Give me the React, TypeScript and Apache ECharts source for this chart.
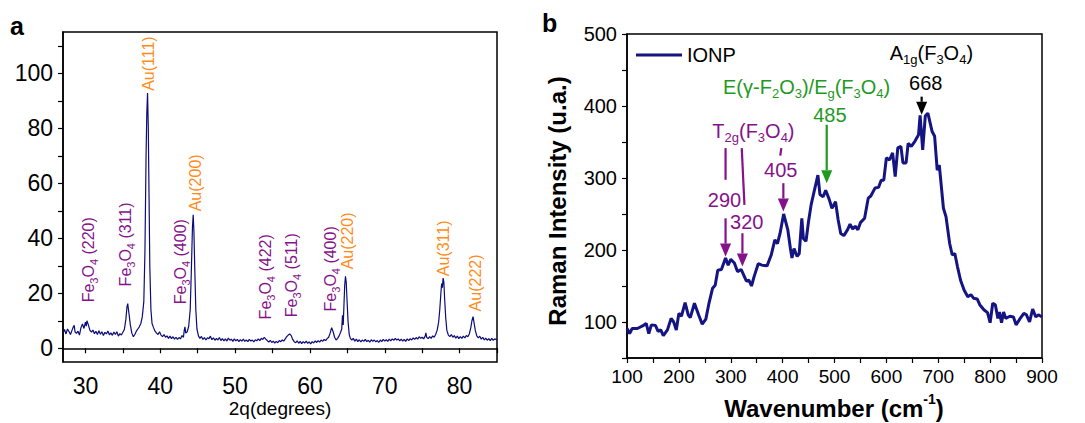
import React, { useEffect, useRef } from "react";
import * as echarts from "echarts";

const FONT = "Liberation Sans, Arial, sans-serif";
const PURPLE = "#85128a";
const ORANGE = "#ff8c1a";
const GREEN = "#1f9a1f";

// ---------- Panel a: XRD (2θ, intensity) ----------
const xrdPoints: [number, number][] = [
  [27.0, 5.5], [27.2, 6.8], [27.4, 5.2], [27.6, 7.0], [27.8, 6.1], [28.0, 5.0], [28.2, 6.5], [28.4, 7.9], [28.5, 8.3], [28.6, 6.0],
  [28.8, 5.4], [29.0, 6.2], [29.2, 4.8], [29.4, 7.5], [29.6, 8.8], [29.8, 7.2], [30.0, 9.5], [30.1, 8.0], [30.2, 10.0], [30.4, 8.4],
  [30.6, 6.5], [30.8, 5.9], [31.0, 6.6], [31.2, 5.3], [31.4, 6.2], [31.6, 5.0], [31.8, 6.4], [32.0, 5.1], [32.2, 6.0], [32.4, 4.6],
  [32.6, 5.8], [32.8, 5.2], [33.0, 6.3], [33.2, 4.9], [33.4, 5.6], [33.6, 4.7], [33.8, 5.9], [34.0, 5.0], [34.2, 6.0], [34.4, 4.4],
  [34.6, 5.3], [34.8, 4.8], [35.0, 5.8], [35.2, 6.8], [35.4, 10.5], [35.55, 15.0], [35.65, 16.2], [35.8, 13.0], [36.0, 8.5], [36.2, 5.5],
  [36.4, 4.2], [36.6, 5.0], [36.8, 6.2], [37.0, 7.0], [37.2, 7.8], [37.4, 9.0], [37.6, 11.5], [37.8, 17.0], [37.95, 35.0], [38.1, 70.0],
  [38.2, 85.5], [38.3, 92.8], [38.4, 80.0], [38.5, 55.0], [38.6, 30.0], [38.75, 14.0], [38.9, 9.0], [39.1, 7.5], [39.3, 6.2], [39.5, 5.5],
  [39.7, 5.0], [39.9, 6.0], [40.1, 4.8], [40.3, 4.2], [40.5, 5.0], [40.7, 4.0], [40.9, 4.5], [41.1, 3.6], [41.3, 4.4], [41.5, 3.5],
  [41.7, 4.2], [41.9, 3.3], [42.1, 4.0], [42.3, 3.2], [42.5, 3.9], [42.7, 3.4], [42.9, 4.6], [43.1, 4.0], [43.2, 6.5], [43.3, 7.8],
  [43.4, 5.5], [43.6, 6.0], [43.8, 8.0], [44.0, 14.0], [44.15, 28.0], [44.3, 44.0], [44.4, 48.5], [44.5, 42.0], [44.6, 30.0], [44.75, 14.0],
  [44.9, 7.0], [45.1, 4.5], [45.3, 3.6], [45.5, 4.3], [45.7, 3.2], [45.9, 3.9], [46.1, 3.0], [46.3, 3.8], [46.5, 3.5], [46.7, 4.4],
  [46.9, 3.1], [47.1, 3.8], [47.3, 2.9], [47.5, 3.6], [47.7, 3.0], [47.9, 3.9], [48.1, 2.8], [48.3, 3.5], [48.5, 2.7], [48.7, 3.4],
  [48.9, 2.6], [49.1, 3.7], [49.3, 2.9], [49.5, 3.3], [49.7, 2.5], [49.9, 3.4], [50.1, 2.7], [50.3, 3.2], [50.5, 2.4], [50.7, 3.1],
  [50.9, 2.6], [51.1, 3.3], [51.3, 2.5], [51.5, 3.0], [51.7, 2.4], [51.9, 3.2], [52.1, 2.6], [52.3, 3.0], [52.5, 2.3], [52.7, 3.1],
  [52.9, 2.7], [53.1, 3.4], [53.3, 2.8], [53.5, 3.6], [53.7, 3.2], [53.9, 4.0], [54.1, 3.3], [54.3, 2.8], [54.5, 2.2], [54.7, 2.9],
  [54.9, 2.1], [55.1, 2.6], [55.3, 1.9], [55.5, 2.5], [55.7, 2.0], [55.9, 2.8], [56.1, 2.4], [56.3, 3.0], [56.5, 2.6], [56.7, 3.4],
  [56.9, 4.2], [57.1, 4.8], [57.3, 5.2], [57.5, 4.6], [57.7, 3.2], [57.9, 2.4], [58.1, 2.0], [58.3, 2.7], [58.5, 1.8], [58.7, 2.5],
  [58.9, 1.7], [59.1, 2.4], [59.3, 1.9], [59.5, 2.6], [59.7, 1.8], [59.9, 2.3], [60.1, 1.6], [60.3, 2.4], [60.5, 1.9], [60.7, 2.7],
  [60.9, 2.1], [61.1, 2.8], [61.3, 2.2], [61.5, 3.0], [61.7, 2.5], [61.9, 3.2], [62.1, 2.8], [62.3, 3.5], [62.5, 4.0], [62.7, 5.5],
  [62.9, 7.5], [63.1, 6.0], [63.3, 4.0], [63.5, 3.0], [63.7, 3.6], [63.9, 4.5], [64.1, 5.8], [64.25, 7.0], [64.35, 12.0], [64.45, 8.5],
  [64.55, 16.0], [64.65, 23.0], [64.75, 26.2], [64.85, 24.0], [64.95, 18.0], [65.1, 9.5], [65.25, 5.0], [65.4, 3.6], [65.6, 3.0], [65.8, 3.6],
  [66.0, 2.6], [66.2, 3.3], [66.4, 2.4], [66.6, 3.1], [66.8, 2.3], [67.0, 3.0], [67.2, 2.5], [67.4, 3.2], [67.6, 2.4], [67.8, 2.9],
  [68.0, 2.2], [68.2, 3.1], [68.4, 2.5], [68.6, 3.0], [68.8, 2.3], [69.0, 2.8], [69.2, 2.1], [69.4, 3.0], [69.6, 2.4], [69.8, 3.2],
  [70.0, 2.6], [70.2, 3.1], [70.4, 2.5], [70.6, 3.3], [70.8, 2.7], [71.0, 3.4], [71.2, 2.9], [71.4, 3.6], [71.6, 3.0], [71.8, 3.4],
  [72.0, 2.7], [72.2, 3.3], [72.4, 2.6], [72.6, 3.2], [72.8, 2.5], [73.0, 3.4], [73.2, 2.8], [73.4, 3.5], [73.6, 3.0], [73.8, 3.8],
  [74.0, 3.2], [74.2, 3.9], [74.4, 3.3], [74.6, 4.2], [74.8, 3.6], [75.0, 4.0], [75.2, 3.4], [75.4, 4.4], [75.5, 5.6], [75.6, 4.0],
  [75.8, 3.5], [76.0, 4.2], [76.2, 3.6], [76.4, 4.5], [76.6, 4.0], [76.8, 5.0], [77.0, 6.5], [77.2, 9.5], [77.35, 14.0], [77.5, 20.0],
  [77.6, 23.5], [77.7, 22.0], [77.8, 25.5], [77.9, 24.0], [78.0, 18.0], [78.15, 11.0], [78.3, 6.5], [78.5, 4.8], [78.7, 4.2], [78.9, 5.0],
  [79.1, 4.0], [79.3, 4.6], [79.5, 3.7], [79.7, 4.4], [79.9, 3.5], [80.1, 4.2], [80.3, 3.6], [80.5, 4.4], [80.7, 3.8], [80.9, 4.6],
  [81.1, 4.2], [81.3, 5.2], [81.5, 7.5], [81.65, 10.0], [81.8, 11.5], [81.95, 9.0], [82.1, 6.5], [82.3, 4.5], [82.5, 3.8], [82.7, 4.4],
  [82.9, 3.3], [83.1, 4.0], [83.3, 3.0], [83.5, 3.7], [83.7, 2.9], [83.9, 3.5], [84.1, 2.8], [84.3, 3.6], [84.5, 2.9], [84.7, 3.4],
  [85.0, 3.0],
];

const xrdXTicks = [30, 35, 40, 45, 50, 55, 60, 65, 70, 75, 80, 85];
const xrdXLabels = [30, 40, 50, 60, 70, 80];
const xrdYTicks = [0, 10, 20, 30, 40, 50, 60, 70, 80, 90, 100, 110];
const xrdYLabels = [0, 20, 40, 60, 80, 100];

// peak labels: [hkl, phase, 2θ, intensity where the text starts]
const xrdPeakLabels: [string, "fe" | "au", number, number][] = [
  ["(220)", "fe", 30.4, 16.7],
  ["(311)", "fe", 35.3, 22.5],
  ["(111)", "au", 38.4, 93.6],
  ["(400)", "fe", 42.7, 16.0],
  ["(200)", "au", 44.7, 49.8],
  ["(422)", "fe", 54.0, 10.5],
  ["(511)", "fe", 57.6, 11.3],
  ["(400)", "fe", 62.7, 13.4],
  ["(220)", "au", 65.0, 28.7],
  ["(311)", "au", 77.8, 26.2],
  ["(222)", "au", 82.1, 13.4],
];

// ---------- Panel b: Raman (wavenumber, intensity) ----------
const ramanPoints: [number, number][] = [
  [100, 91], [105, 84], [110, 91], [120, 91], [130, 94.5], [137, 98], [142, 84], [147, 96], [155, 95], [160, 87],
  [165, 89], [170, 81], [178, 89], [185, 105], [190, 100], [195, 89], [200, 112], [205, 108], [212, 127], [218, 110],
  [222, 106], [230, 126], [238, 110], [245, 97], [252, 104], [258, 126], [265, 147], [270, 151], [275, 172], [282, 173],
  [290, 189], [295, 179], [300, 187], [307, 182], [313, 170], [320, 173], [325, 165], [330, 157], [335, 158], [340, 150],
  [345, 163], [353, 181], [360, 179], [370, 178], [378, 193], [385, 214], [390, 209], [395, 223], [402, 250], [410, 228],
  [415, 202], [418, 189], [422, 202], [428, 191], [432, 195], [437, 244], [440, 216], [445, 212], [450, 240], [455, 263],
  [460, 279], [468, 304], [472, 277], [478, 274], [483, 283], [490, 270], [495, 258], [502, 267], [507, 242], [512, 223],
  [518, 220], [525, 228], [530, 236], [535, 229], [540, 233], [545, 228], [550, 238], [558, 244], [565, 272], [570, 275],
  [578, 286], [585, 287], [590, 297], [595, 297], [600, 328], [606, 325], [612, 335], [617, 302], [622, 342], [628, 344],
  [632, 321], [638, 321], [642, 348], [648, 344], [655, 351], [662, 360], [665, 387], [670, 339], [675, 386], [680, 390],
  [688, 365], [693, 358], [698, 311], [702, 318], [710, 258], [715, 246], [722, 209], [727, 193], [732, 195], [737, 177],
  [743, 158], [750, 144], [757, 135], [763, 138], [768, 133], [775, 132], [780, 124], [788, 117], [795, 113], [800, 99],
  [805, 126], [810, 124], [815, 105], [818, 114], [822, 99], [826, 114], [830, 105], [838, 108], [845, 107], [850, 96],
  [858, 105], [865, 112], [870, 110], [876, 100], [882, 118], [888, 107], [893, 110], [900, 107],
];

const ramanXTicks = [100, 150, 200, 250, 300, 350, 400, 450, 500, 550, 600, 650, 700, 750, 800, 850, 900];
const ramanXLabels = [100, 200, 300, 400, 500, 600, 700, 800, 900];
const ramanYTicks = [50, 100, 150, 200, 250, 300, 350, 400, 450, 500];
const ramanYLabels = [100, 200, 300, 400, 500];

// Raman annotation anchors (data coordinates)
const ramanTexts: [string, string, number, number][] = [
  ["{k|A}{ks|1g}{k|(F}{ks|3}{k|O}{ks|4}{k|)}", "k", 686.8, 474],
  ["{k|668}", "k", 675.8, 431.9],
  ["{g|E(γ-F}{gs|2}{g|O}{gs|3}{g|)/E}{gs|g}{g|(F}{gs|3}{g|O}{gs|4}{g|)}", "g", 446.3, 426],
  ["{g|485}", "g", 491, 387.8],
  ["{m|T}{ms|2g}{m|(F}{ms|3}{m|O}{ms|4}{m|)}", "m", 343.7, 365],
  ["{m|290}", "m", 288, 269.6],
  ["{m|320}", "m", 330.9, 239.5],
  ["{m|405}", "m", 396.3, 311.4],
];
// [x1, y1, x2, y2, color, withHead]
const ramanArrows: [number, number, number, number, string, boolean][] = [
  [668, 413, 668, 387.8, "#000", true],
  [485, 374, 485, 292.8, GREEN, true],
  [290, 341.5, 290, 297.5, PURPLE, false],
  [290, 244, 290, 190.8, PURPLE, true],
  [321.2, 341.5, 326.4, 262.7, PURPLE, false],
  [322.5, 223.3, 322.5, 177, PURPLE, true],
  [397.5, 341.5, 395.5, 331, PURPLE, false],
  [401.4, 292.8, 401.4, 253.4, PURPLE, true],
];

function axisBase(fontSize: number, margin: number, tickVals: number[], labelVals: number[]) {
  return {
    type: "value" as const,
    axisLine: { show: true, lineStyle: { color: "#000", width: 1.5 } },
    axisTick: { show: true, inside: false, length: 5, lineStyle: { color: "#000", width: 1.2 }, customValues: tickVals },
    axisLabel: { show: true, color: "#000", fontSize, margin, fontFamily: FONT, customValues: labelVals },
    splitLine: { show: false },
  };
}

export default function App() {
  const ref = useRef<HTMLDivElement>(null);
  useEffect(() => {
    if (!ref.current) return;
    const chart = echarts.init(ref.current, undefined, { renderer: "svg" });
    chart.setOption({
      animation: false,
      backgroundColor: "#fff",
      grid: [
        { left: 63, top: 32, width: 434, height: 330, show: true, borderColor: "#000", borderWidth: 1.5, backgroundColor: "transparent" },
        { left: 627, top: 34, width: 415, height: 324, show: true, borderColor: "#000", borderWidth: 1.5, backgroundColor: "transparent" },
      ],
      xAxis: [
        { ...axisBase(23, 12, xrdXTicks, xrdXLabels), gridIndex: 0, min: 27, max: 85 },
        { ...axisBase(19, 9, ramanXTicks, ramanXLabels), gridIndex: 1, min: 100, max: 900 },
      ],
      yAxis: [
        { ...axisBase(23, 10, xrdYTicks, xrdYLabels), gridIndex: 0, min: -5, max: 115 },
        { ...axisBase(20, 10, ramanYTicks, ramanYLabels), gridIndex: 1, min: 50, max: 500 },
      ],
      legend: {
        data: [{ name: "IONP", icon: "rect" }],
        left: 631,
        top: 40,
        itemWidth: 46,
        itemHeight: 3,
        itemStyle: { color: "#141482", borderWidth: 0 },
        textStyle: { fontSize: 20, color: "#000", fontFamily: FONT },
      },
      series: [
        {
          name: "XRD",
          type: "line",
          xAxisIndex: 0,
          yAxisIndex: 0,
          data: xrdPoints,
          symbol: "none",
          lineStyle: { color: "#0b0b7a", width: 1.2 },
          itemStyle: { color: "#0b0b7a" },
        },
        {
          name: "IONP",
          type: "line",
          xAxisIndex: 1,
          yAxisIndex: 1,
          data: ramanPoints,
          symbol: "none",
          lineStyle: { color: "#141482", width: 3 },
          itemStyle: { color: "#141482" },
        },
      ],
    });

    const px = (g: number, x: number, y: number) => chart.convertToPixel({ gridIndex: g } as any, [x, y]) as number[];
    const graphics: any[] = [];

    // panel letters and axis titles
    graphics.push({ type: "text", x: 10, y: 26, style: { text: "a", fontSize: 25, fontWeight: "bold", fontFamily: FONT, fill: "#000", verticalAlign: "middle" } });
    graphics.push({ type: "text", x: 542, y: 23, style: { text: "b", fontSize: 25, fontWeight: "bold", fontFamily: FONT, fill: "#000", verticalAlign: "middle" } });
    graphics.push({ type: "text", x: 280, y: 408, style: { text: "2q(degrees)", fontSize: 19, fontFamily: FONT, fill: "#000", align: "center", verticalAlign: "middle" } });
    graphics.push({
      type: "text", x: 834, y: 406,
      style: {
        text: "{t|Wavenumber (cm}{sup|-1}{t|)}", align: "center", verticalAlign: "middle",
        rich: {
          t: { fontSize: 24, fontWeight: "bold", fontFamily: FONT, fill: "#000", lineHeight: 28, verticalAlign: "bottom" },
          sup: { fontSize: 14, fontWeight: "bold", fontFamily: FONT, fill: "#000", lineHeight: 14, verticalAlign: "top" },
        },
      },
    });
    graphics.push({
      type: "text", x: 557, y: 201, rotation: Math.PI / 2,
      style: { text: "Raman Intensity (u.a.)", fontSize: 24, fontWeight: "bold", fontFamily: FONT, fill: "#000", align: "center", verticalAlign: "middle" },
    });

    // XRD peak labels (rotated)
    const richA = (c: string) => ({
      n: { fontSize: 16, fontFamily: FONT, fill: c, lineHeight: 22, verticalAlign: "middle" },
      s: { fontSize: 11, fontFamily: FONT, fill: c, lineHeight: 11, verticalAlign: "bottom" },
    });
    xrdPeakLabels.forEach(([hkl, phase, x, y]) => {
      const p = px(0, x, y);
      const isFe = phase === "fe";
      const text = isFe ? `{n|Fe}{s|3}{n|O}{s|4}{n| ${hkl}}` : `{n|Au${hkl}}`;
      graphics.push({
        type: "text", x: p[0], y: p[1], rotation: Math.PI / 2,
        style: { text, align: "left", verticalAlign: "middle", rich: richA(isFe ? PURPLE : ORANGE) },
      });
    });

    // Raman annotations
    const colorOf: Record<string, string> = { k: "#000", g: GREEN, m: PURPLE };
    const richB: any = {};
    Object.keys(colorOf).forEach((k) => {
      richB[k] = { fontSize: 20, fontFamily: FONT, fill: colorOf[k], lineHeight: 26, verticalAlign: "middle" };
      richB[k + "s"] = { fontSize: 13, fontFamily: FONT, fill: colorOf[k], lineHeight: 13, verticalAlign: "bottom" };
    });
    ramanTexts.forEach(([text, , x, y]) => {
      const p = px(1, x, y);
      graphics.push({ type: "text", x: p[0], y: p[1], style: { text, align: "center", verticalAlign: "middle", rich: richB } });
    });
    ramanArrows.forEach(([x1, y1, x2, y2, color, head]) => {
      const a = px(1, x1, y1);
      const b = px(1, x2, y2);
      const dx = b[0] - a[0];
      const dy = b[1] - a[1];
      const len = Math.hypot(dx, dy) || 1;
      const ux = dx / len, uy = dy / len;
      const hl = head ? 13 : 0;
      const hw = 5.5;
      const base = [b[0] - ux * hl, b[1] - uy * hl];
      graphics.push({ type: "line", shape: { x1: a[0], y1: a[1], x2: base[0], y2: base[1] }, style: { stroke: color, lineWidth: 2.2 } });
      if (head) {
        graphics.push({
          type: "polygon",
          shape: { points: [[b[0], b[1]], [base[0] - uy * hw, base[1] + ux * hw], [base[0] + uy * hw, base[1] - ux * hw]] },
          style: { fill: color },
        });
      }
    });

    chart.setOption({ graphic: graphics });
    return () => chart.dispose();
  }, []);
  return <div ref={ref} style={{ position: "fixed", left: 0, top: 0, width: 1085, height: 423 }} />;
}
